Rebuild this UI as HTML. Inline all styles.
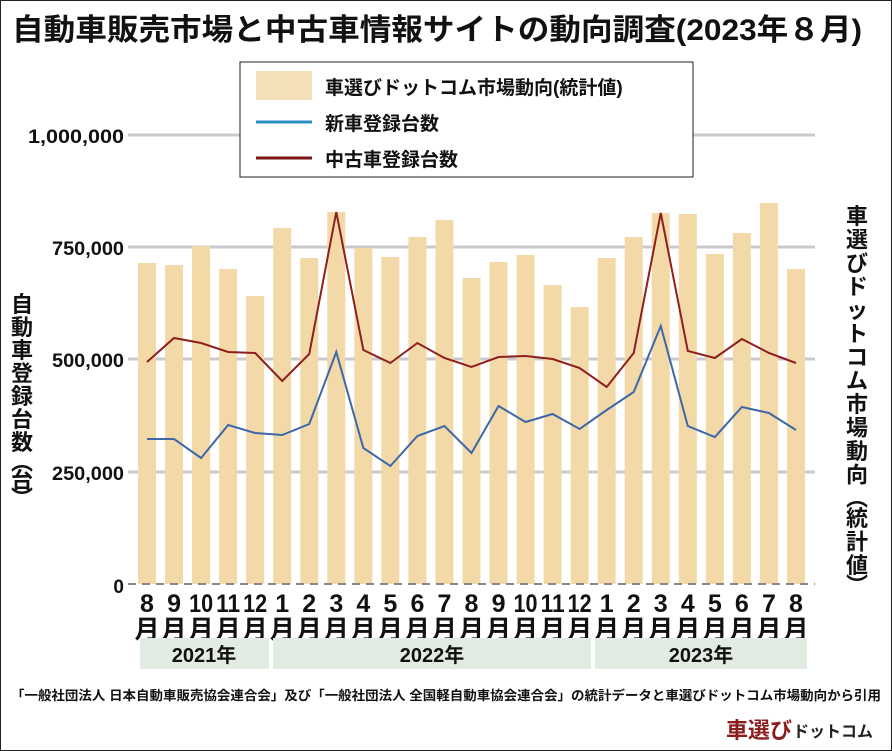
<!DOCTYPE html>
<html><head><meta charset="utf-8"><style>
html,body{margin:0;padding:0;background:#fff}
svg{display:block}
text{font-family:"Liberation Sans","Noto Sans CJK JP",sans-serif;font-weight:bold;fill:#111}
.v{font-family:"Noto Sans CJK JP",sans-serif}
</style></head><body>
<svg width="892" height="751" viewBox="0 0 892 751" xmlns="http://www.w3.org/2000/svg">
<rect x="0.5" y="0.5" width="891" height="750" fill="#fff" stroke="#222" stroke-width="1"/>
<text x="12" y="40" font-size="30" textLength="850" lengthAdjust="spacingAndGlyphs">自動車販売市場と中古車情報サイトの動向調査(2023年８月)</text>
<g stroke="#c9c9cf" stroke-width="3">
<line x1="128" y1="135" x2="815" y2="135"/>
<line x1="128" y1="247" x2="815" y2="247"/>
<line x1="128" y1="359" x2="815" y2="359"/>
<line x1="128" y1="472" x2="815" y2="472"/>
</g>
<g font-size="19" text-anchor="end">
<text x="124" y="143" textLength="96" lengthAdjust="spacingAndGlyphs">1,000,000</text>
<text x="124" y="255" textLength="72" lengthAdjust="spacingAndGlyphs">750,000</text>
<text x="124" y="367" textLength="72" lengthAdjust="spacingAndGlyphs">500,000</text>
<text x="124" y="480" textLength="72" lengthAdjust="spacingAndGlyphs">250,000</text>
<text x="124" y="593">0</text>
</g>
<g fill="#f3d9a8" id="bars"></g>
<line x1="128" y1="584" x2="815" y2="584" stroke="#888" stroke-width="2" stroke-dasharray="8,6"/>
<polyline id="red" fill="none" stroke="#8e1f1f" stroke-width="2"/>
<polyline id="blue" fill="none" stroke="#3d68a8" stroke-width="2"/>
<rect x="240" y="62" width="453" height="115" fill="#fff" stroke="#222" stroke-width="1"/>
<rect x="256" y="71" width="56" height="29" fill="#f3dfb8"/>
<text x="325" y="94" font-size="19">車選びドットコム市場動向(統計値)</text>
<line x1="256" y1="122" x2="312" y2="122" stroke="#2a8fc0" stroke-width="3"/>
<text x="325" y="130" font-size="19">新車登録台数</text>
<line x1="256" y1="158" x2="312" y2="158" stroke="#7a1515" stroke-width="3"/>
<text x="325" y="166" font-size="19">中古車登録台数</text>
<g font-size="22" text-anchor="middle" id="ly" class="v"></g>
<g font-size="22" text-anchor="middle" id="ry" class="v"></g>
<g font-size="25" text-anchor="middle" id="xl"></g>
<rect x="140" y="638" width="129" height="31" fill="#e2ece2"/>
<rect x="273" y="638" width="318" height="31" fill="#e2ece2"/>
<rect x="595" y="638" width="212" height="31" fill="#e2ece2"/>
<g font-size="20" text-anchor="middle">
<text x="204" y="662">2021年</text>
<text x="432" y="662">2022年</text>
<text x="701" y="662">2023年</text>
</g>
<text x="446" y="700" font-size="13" text-anchor="middle" textLength="870" lengthAdjust="spacingAndGlyphs" font-weight="normal">「一般社団法人 日本自動車販売協会連合会」及び「一般社団法人 全国軽自動車協会連合会」の統計データと車選びドットコム市場動向から引用</text>
<text x="726" y="738" font-size="22" style="fill:#8b1d1d">車選び</text>
<text x="793" y="737" font-size="16" style="fill:#222">ドットコム</text>
</svg>
<script>
var NS="http://www.w3.org/2000/svg";
var bars=[263,265,246,269,296,228,258,212,248,257,237,220,278,262,255,285,307,258,237,213,214,254,233,203,269];
var red=[362,338,343,352,353,381,354,212,350,363,343,358,367,357,356,359,368,387,353,213,351,358,339,353,363];
var blue=[439,439,458,425,433,435,424,352,448,466,436,426,453,406,422,414,429,410,392,326,426,437,407,413,430];
var months=[8,9,10,11,12,1,2,3,4,5,6,7,8,9,10,11,12,1,2,3,4,5,6,7,8];
function el(t,a,p,txt){var e=document.createElementNS(NS,t);for(var k in a)e.setAttribute(k,a[k]);if(txt)e.textContent=txt;document.getElementById(p).appendChild(e);return e;}
var rp=[],bp=[];
for(var i=0;i<25;i++){var cx=147+i*27.04;
el("rect",{x:cx-9,y:bars[i],width:18,height:584-bars[i]},"bars");
rp.push(cx+","+red[i]);bp.push(cx+","+blue[i]);
var m=String(months[i]);
var t=el("text",{x:cx,y:612},"xl",m);
if(m.length>1){t.setAttribute("textLength","24");t.setAttribute("lengthAdjust","spacingAndGlyphs");}
el("text",{x:cx,y:638},"xl","月");
}
document.getElementById("red").setAttribute("points",rp.join(" "));
document.getElementById("blue").setAttribute("points",bp.join(" "));
var L=["自","動","車","登","録","台","数","︵","台","︶"];
var ly=[312,335,358,381,404,427,450,470,488,506];
for(var i=0;i<L.length;i++){el("text",{x:22,y:ly[i]},"ly",L[i]);}
var R=["車","選","び","ド","ッ","ト","コ","ム","市","場","動","向","︵","統","計","値","︶"];
var y=224;
for(var i=0;i<R.length;i++){el("text",{x:857,y:y},"ry",R[i]);y+=(R[i]=="︵"||R[i+1]=="︶"?20:23.5);}
</script>
</body></html>
